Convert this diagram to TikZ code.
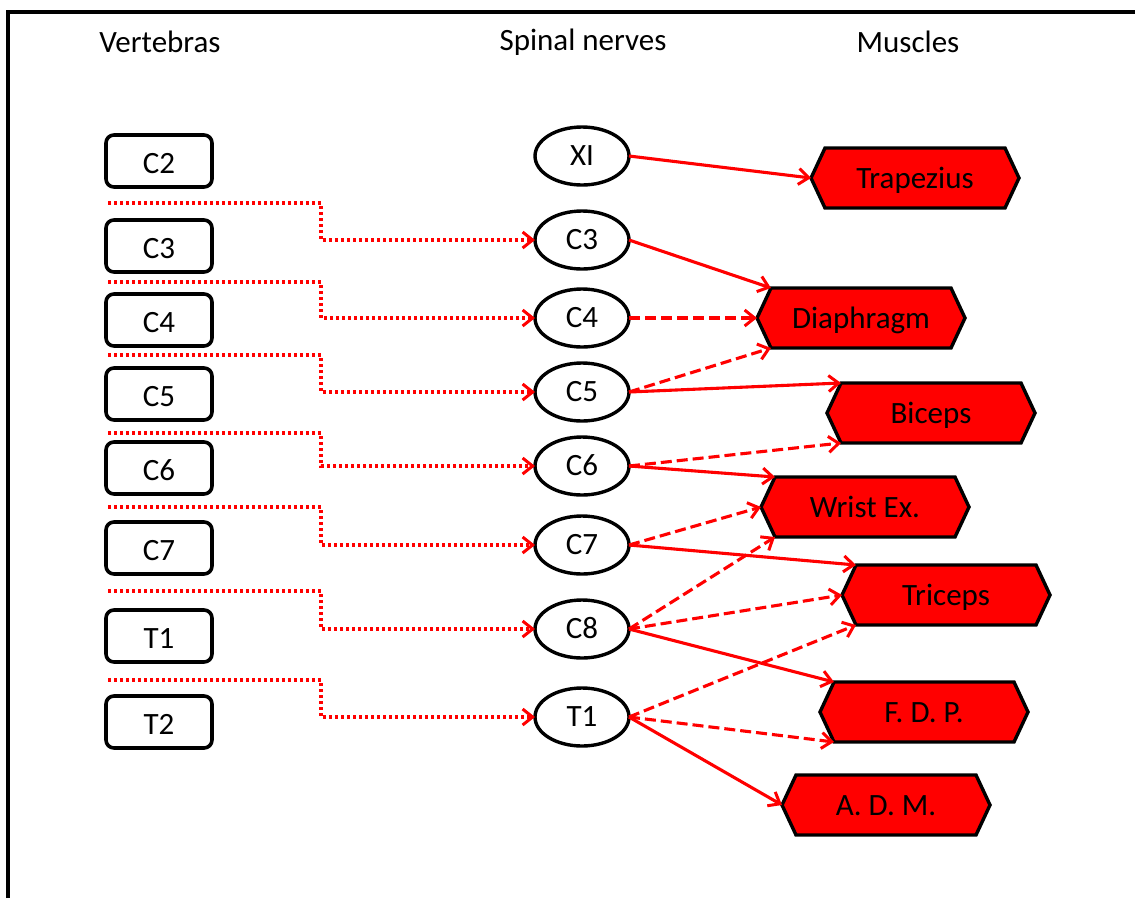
\documentclass[tikz,border=0pt]{standalone}
\usepackage{fontspec}
\setmainfont{Carlito}
\usetikzlibrary{shapes.geometric,arrows.meta,calc,backgrounds}
\tikzset{
  x=1pt,y=-1pt,
  >={Straight Barb[length=10pt,width=16pt,line width=3pt]},
  lbl/.style={font=\fontsize{31}{33}\selectfont},
  vert/.style={lbl,draw,line width=3.6pt,rounded corners=8pt,minimum width=106pt,minimum height=52pt,inner sep=0pt,outer sep=0pt,text height=26pt,text depth=2pt},
  nerve/.style={lbl,draw,ellipse,line width=3.4pt,minimum width=94pt,minimum height=58pt,inner sep=0pt,outer sep=0pt,text height=23pt,text depth=5pt},
  mus/.style={lbl,minimum width=208pt,minimum height=60pt,inner sep=0pt,outer sep=0pt,text height=24pt,text depth=4pt},
  hexa/.style={draw=black,fill=red,line width=3.4pt,line join=miter},
  title/.style={lbl},
  dot/.style={red,line width=3.4pt,dash pattern=on 3pt off 3pt},
  sol/.style={red,line width=3.1pt,->},
  dsh/.style={red,line width=3.1pt,dash pattern=on 11pt off 5pt,->},
}
\newcommand{\muscle}[3]{%
  \node[mus] (#1) at (#2) {#3};
  \begin{scope}[on background layer]
    \draw[hexa] (#1.west) -- ($(#1.north west)+(14,0)$) -- ($(#1.north east)+(-14,0)$) -- (#1.east) -- ($(#1.south east)+(-14,0)$) -- ($(#1.south west)+(14,0)$) -- cycle;
  \end{scope}}
\begin{document}
\begin{tikzpicture}
\useasboundingbox (0,0) rectangle (1135,898);
\draw[line width=4pt] (8,898) -- (8,12) -- (1135,12);

\node[title] (tv) at (160,42) {Vertebras};
\node[title] (tn) at (583,42) {Spinal nerves};
\node[title] (tm) at (908,42) {Muscles};

% vertebras
\node[vert] (vC2) at (159,161) {C2};
\node[vert] (vC3) at (159,246) {C3};
\node[vert] (vC4) at (159,320) {C4};
\node[vert] (vC5) at (159,394) {C5};
\node[vert] (vC6) at (159,468) {C6};
\node[vert] (vC7) at (159,548) {C7};
\node[vert] (vT1) at (159,636) {T1};
\node[vert] (vT2) at (159,722) {T2};

% nerves
\node[nerve] (nXI) at (582,156) {XI};
\node[nerve] (nC3) at (582,240) {C3};
\node[nerve] (nC4) at (582,318) {C4};
\node[nerve] (nC5) at (582,392) {C5};
\node[nerve] (nC6) at (582,466) {C6};
\node[nerve] (nC7) at (582,545) {C7};
\node[nerve] (nC8) at (582,629) {C8};
\node[nerve] (nT1) at (582,717) {T1};

% muscles
\muscle{mTr}{915,178}{Trapezius}
\muscle{mDi}{861,318}{Diaphragm}
\muscle{mBi}{931,413}{Biceps}
\muscle{mWr}{865,507}{Wrist Ex.}
\muscle{mTc}{946,595}{Triceps}
\muscle{mFd}{924,712}{F. D. P.}
\muscle{mAd}{886,805}{A. D. M.}

% dotted connectors
\coordinate (s1) at (108,203);
\coordinate (s2) at (108,282);
\coordinate (s3) at (108,355);
\coordinate (s4) at (108,433);
\coordinate (s5) at (108,507);
\coordinate (s6) at (108,591);
\coordinate (s7) at (108,680);
\draw[dot,->] (s1) -- (321,203) -- (321,240) -- (nC3.west);
\draw[dot,->] (s2) -- (321,282) -- (321,318) -- (nC4.west);
\draw[dot,->] (s3) -- (321,355) -- (321,392) -- (nC5.west);
\draw[dot,->] (s4) -- (321,433) -- (321,466) -- (nC6.west);
\draw[dot,->] (s5) -- (321,507) -- (321,545) -- (nC7.west);
\draw[dot,->] (s6) -- (321,591) -- (321,629) -- (nC8.west);
\draw[dot,->] (s7) -- (321,680) -- (321,717) -- (nT1.west);

% nerve -> muscle
\draw[sol] (nXI.east) -- (mTr.west);
\draw[sol] (nC3.east) -- ($(mDi.north west)+(14,0)$);
\draw[dsh] (nC4.east) -- (mDi.west);
\draw[dsh] (nC5.east) -- ($(mDi.south west)+(14,0)$);
\draw[sol] (nC5.east) -- ($(mBi.north west)+(14,0)$);
\draw[dsh] (nC6.east) -- ($(mBi.south west)+(14,0)$);
\draw[sol] (nC6.east) -- ($(mWr.north west)+(14,0)$);
\draw[dsh] (nC7.east) -- (mWr.west);
\draw[sol] (nC7.east) -- ($(mTc.north west)+(14,0)$);
\draw[dsh] (nC8.east) -- ($(mWr.south west)+(14,0)$);
\draw[dsh] (nC8.east) -- (mTc.west);
\draw[sol] (nC8.east) -- ($(mFd.north west)+(14,0)$);
\draw[dsh] (nT1.east) -- ($(mTc.south west)+(14,0)$);
\draw[dsh] (nT1.east) -- ($(mFd.south west)+(14,0)$);
\draw[sol] (nT1.east) -- (mAd.west);
\end{tikzpicture}
\end{document}
